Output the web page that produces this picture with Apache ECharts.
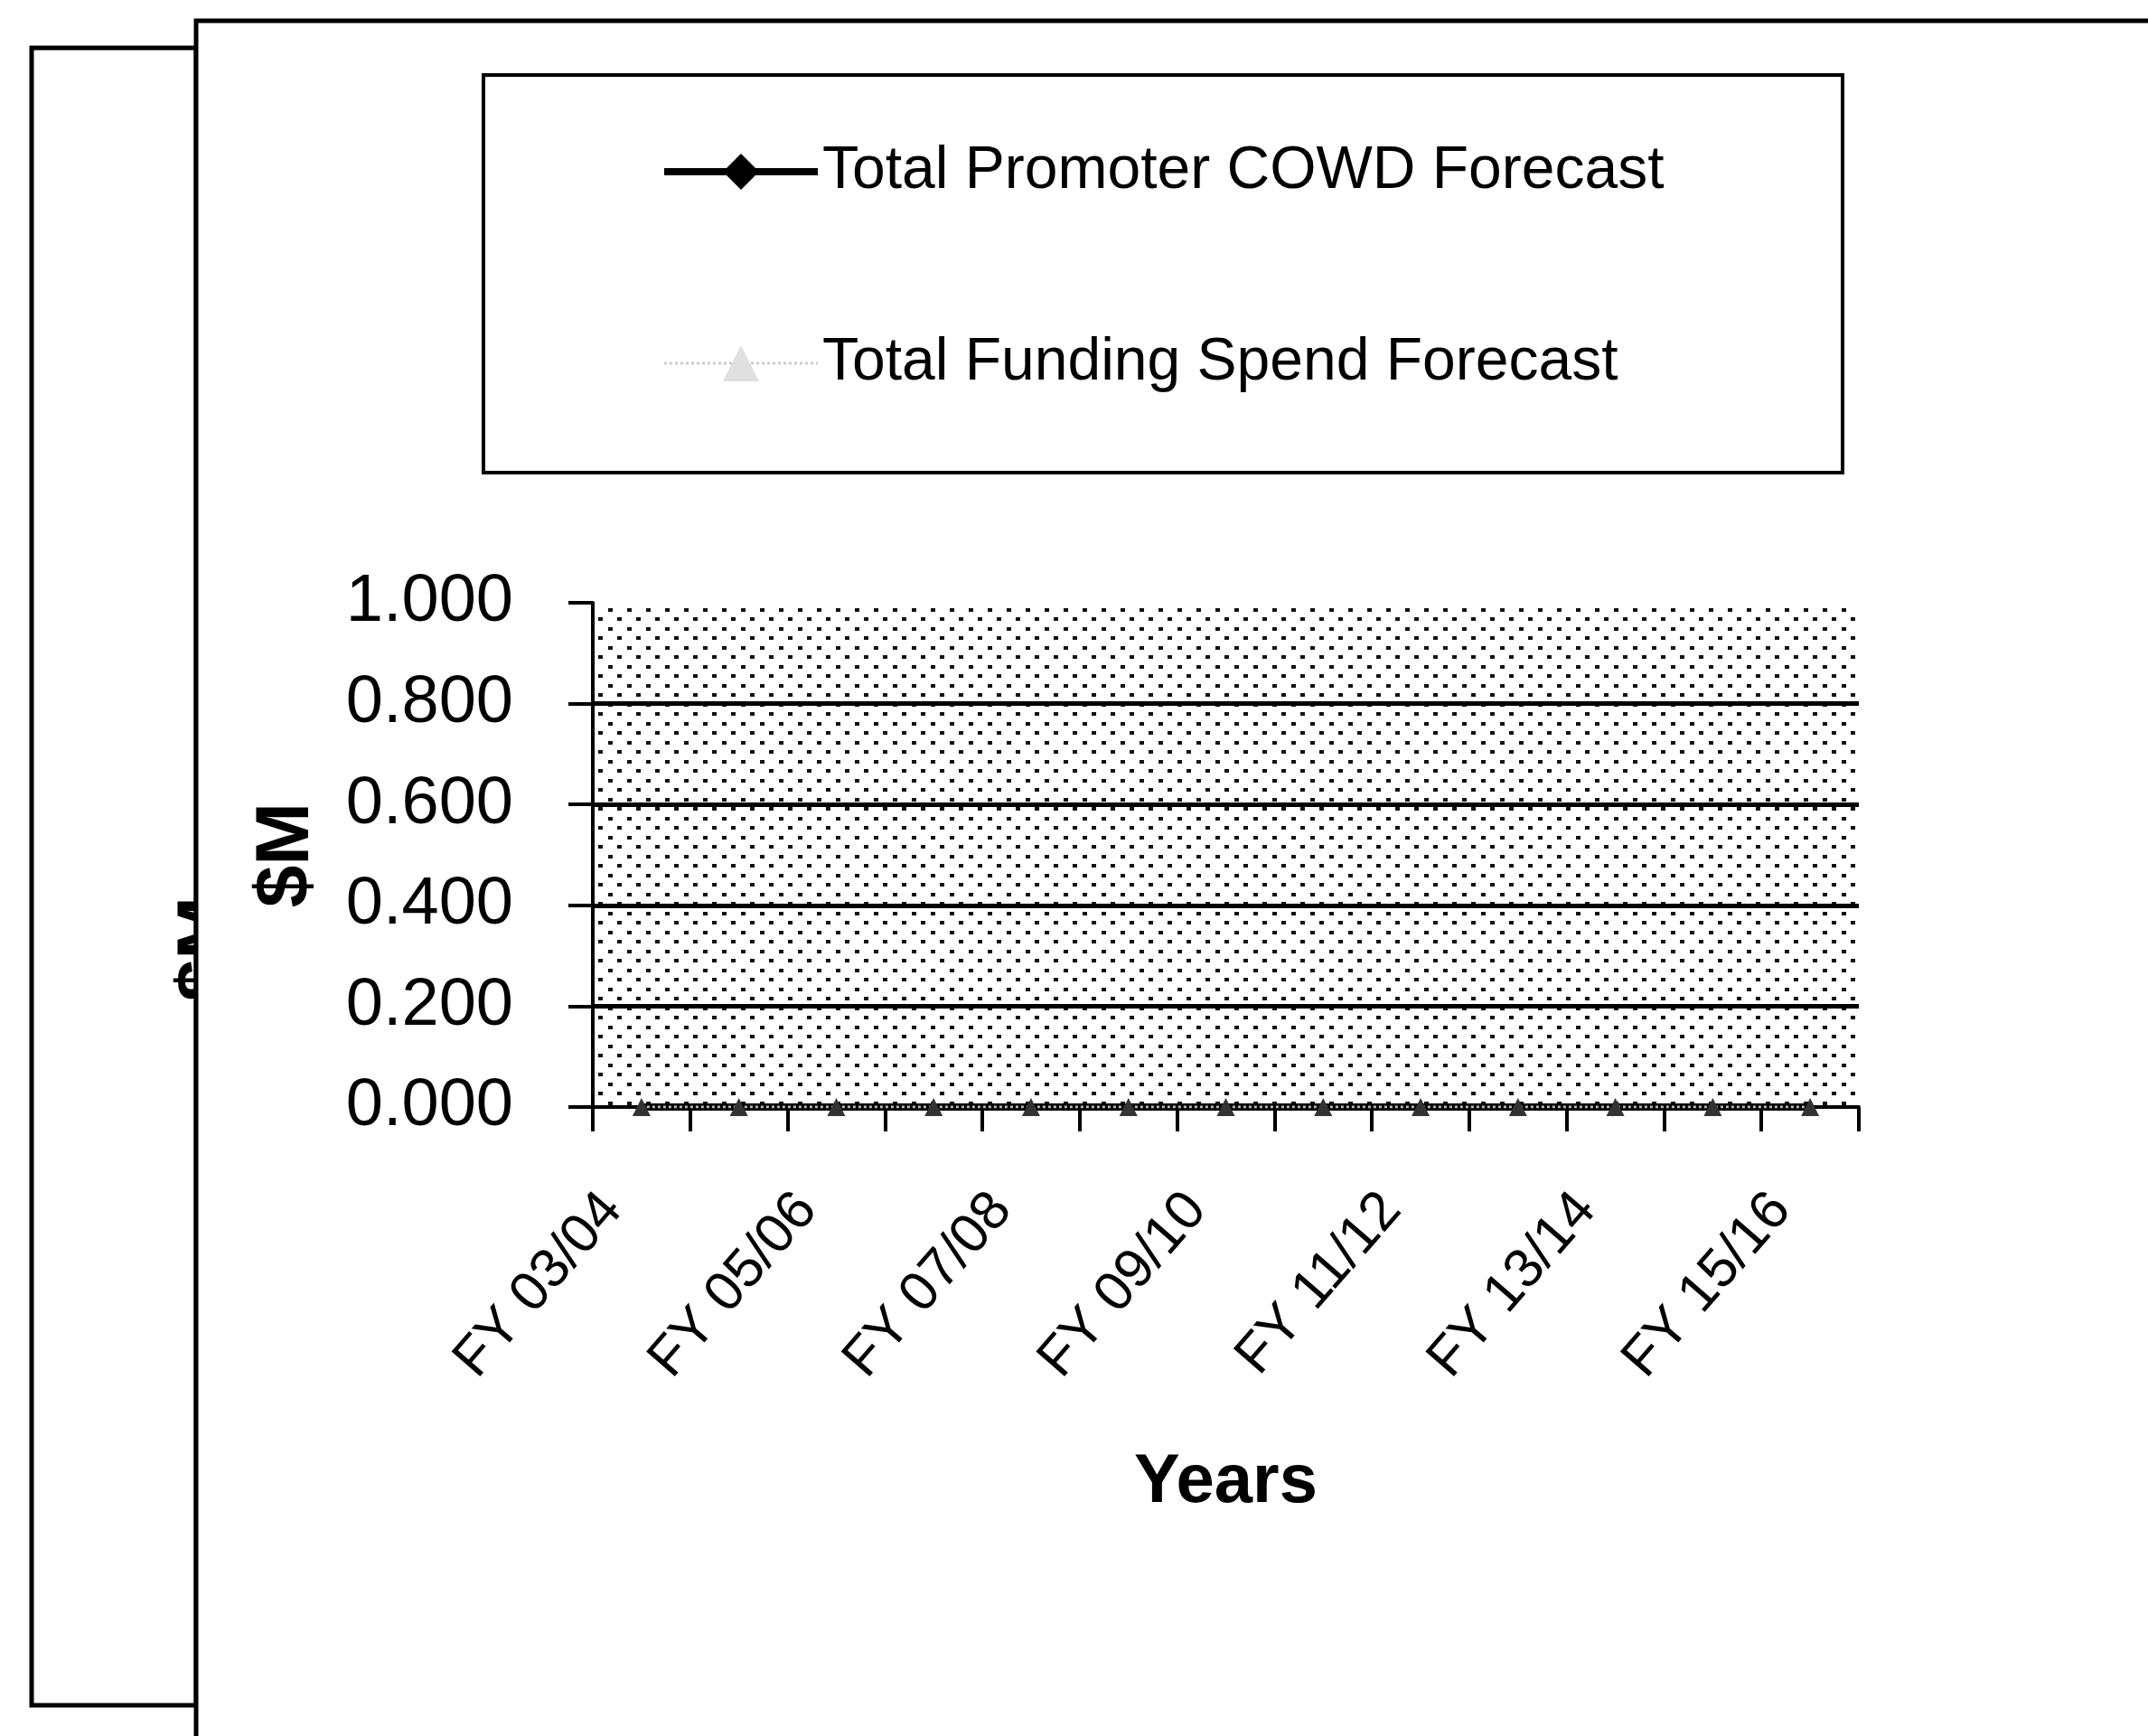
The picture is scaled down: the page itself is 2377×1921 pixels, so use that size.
<!DOCTYPE html>
<html>
<head>
<meta charset="utf-8">
<script src="https://cdn.jsdelivr.net/npm/echarts@6/dist/echarts.min.js"></script>
<style>
  html, body { margin: 0; padding: 0; background: #fff; }
  #main { width: 2377px; height: 1921px; }
</style>
</head>
<body>
<div id="main"></div>
<script>
// data
var categories = ['FY 03/04', 'FY 04/05', 'FY 05/06', 'FY 06/07', 'FY 07/08', 'FY 08/09', 'FY 09/10',
                  'FY 10/11', 'FY 11/12', 'FY 12/13', 'FY 13/14', 'FY 14/15', 'FY 15/16'];
var cowdForecast = [0, 0, 0, 0, 0, 0, 0, 0, 0, 0, 0, 0, 0];
var fundingForecast = [0, 0, 0, 0, 0, 0, 0, 0, 0, 0, 0, 0, 0];
var yMin = 0, yMax = 1, yStep = 0.2;

var FONT = '"Liberation Sans", Arial, sans-serif';

// dotted fill of the plot area
function dotPattern() {
  var c = document.createElement('canvas');
  c.width = 21; c.height = 21;
  var ctx = c.getContext('2d');
  ctx.fillStyle = '#fff';
  ctx.fillRect(0, 0, 21, 21);
  ctx.fillStyle = '#111';
  ctx.fillRect(1, 1, 5, 4);
  ctx.fillRect(11, 11, 5, 4);
  return c;
}

var myChart = echarts.init(document.getElementById('main'));

var option = {
  animation: false,
  backgroundColor: '#fff',
  graphic: [
    { // box behind, on the left
      type: 'rect', z: -30,
      shape: { x: 35, y: 53, width: 182, height: 1834 },
      style: { fill: '#fff', stroke: '#000', lineWidth: 5 }
    },
    {
      type: 'text', z: -20, x: 231, y: 1050, rotation: Math.PI / 2,
      style: { text: '$M', font: 'bold 84px ' + FONT, fill: '#000', align: 'center', verticalAlign: 'middle' }
    },
    { // chart frame
      type: 'rect', z: -10,
      shape: { x: 217, y: 23, width: 2300, height: 2000 },
      style: { fill: '#fff', stroke: '#000', lineWidth: 5 }
    },
    { // legend frame
      type: 'rect', z: -5,
      shape: { x: 535, y: 83, width: 1504, height: 440 },
      style: { fill: 'none', stroke: '#000', lineWidth: 4 }
    }
  ],
  legend: {
    orient: 'vertical',
    left: 731,
    top: 150,
    padding: 0,
    itemGap: 132,
    itemWidth: 170,
    itemHeight: 50,
    textStyle: { fontFamily: FONT, fontSize: 66, lineHeight: 80, color: '#000' },
    data: [
      { name: 'Total Promoter COWD Forecast', lineStyle: { width: 8, color: '#000' }, itemStyle: { color: '#000' } },
      { name: 'Total Funding Spend Forecast', lineStyle: { width: 3, color: '#ccc', type: 'dotted' }, itemStyle: { color: '#e0e0e0' } }
    ]
  },
  grid: {
    left: 656, top: 667, right: 320, bottom: 696,
    show: true,
    borderWidth: 0,
    backgroundColor: { image: dotPattern(), repeat: 'repeat' }
  },
  xAxis: {
    type: 'category',
    data: categories,
    boundaryGap: true,
    axisLine: { show: true, lineStyle: { color: '#000', width: 4 } },
    axisTick: { show: true, interval: 0, length: 27, lineStyle: { color: '#000', width: 4 } },
    axisLabel: {
      interval: 1, rotate: 49, margin: 67, padding: [0, 49, 0, 0],
      fontFamily: FONT, fontSize: 61, color: '#000'
    },
    name: 'Years',
    nameLocation: 'middle',
    nameGap: 378,
    nameTextStyle: { fontFamily: FONT, fontWeight: 'bold', fontSize: 76, color: '#000' }
  },
  yAxis: {
    type: 'value',
    min: yMin, max: yMax, interval: yStep,
    axisLine: { show: true, lineStyle: { color: '#000', width: 4 } },
    axisTick: { show: true, length: 27, lineStyle: { color: '#000', width: 4 } },
    axisLabel: {
      margin: 88,
      formatter: function (v) { return v.toFixed(3); },
      fontFamily: FONT, fontSize: 74, color: '#000'
    },
    splitLine: { show: true, showMinLine: false, showMaxLine: false, lineStyle: { color: '#000', width: 5 } },
    name: '$M',
    nameLocation: 'middle',
    nameGap: 296,
    nameMoveOverlap: false,
    nameTextStyle: { fontFamily: FONT, fontWeight: 'bold', fontSize: 84, color: '#000' }
  },
  series: [
    {
      name: 'Total Promoter COWD Forecast',
      type: 'line',
      data: cowdForecast,
      symbol: 'diamond',
      symbolSize: 30,
      showSymbol: false,
      lineStyle: { color: '#000', width: 8 },
      itemStyle: { color: '#000' },
      z: 3
    },
    {
      name: 'Total Funding Spend Forecast',
      type: 'line',
      data: fundingForecast,
      symbol: 'triangle',
      symbolSize: 20,
      lineStyle: { color: '#bbb', width: 3, type: 'dotted' },
      itemStyle: { color: '#333' },
      z: 4
    }
  ]
};

myChart.setOption(option);
</script>
</body>
</html>
